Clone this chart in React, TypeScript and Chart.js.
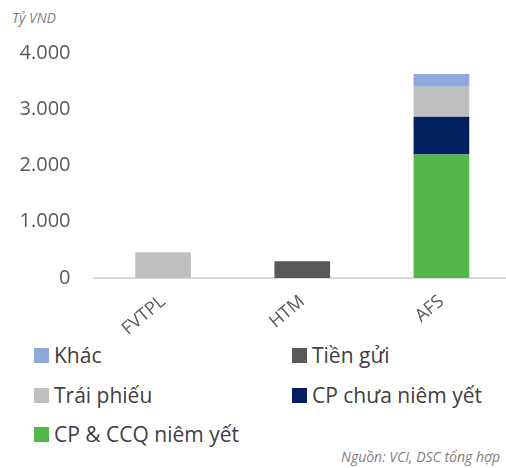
import React, { useEffect, useRef } from "react";
import { Chart, registerables } from "chart.js";

Chart.register(...registerables);

const categories = ["FVTPL", "HTM", "AFS"];
const cpCcqNiemYet = [0, 0, 2195];
const cpChuaNiemYet = [0, 0, 672];
const traiPhieu = [460, 0, 531];
const tienGui = [0, 300, 0];
const khac = [0, 0, 230];
const yTicks = [0, 1000, 2000, 3000, 4000];

const FONT = "'Open Sans', 'Noto Sans', sans-serif";

const legendItems = [
  { label: "Khác", color: "#8eaadb", x: 34, y: 341 },
  { label: "Tiền gửi", color: "#595959", x: 292, y: 341 },
  { label: "Trái phiếu", color: "#bfbfbf", x: 34, y: 381 },
  { label: "CP chưa niêm yết", color: "#002060", x: 292, y: 381 },
  { label: "CP & CCQ niêm yết", color: "#53b74a", x: 34, y: 420 },
];

export default function App() {
  const ref = useRef<HTMLCanvasElement>(null);
  useEffect(() => {
    if (!ref.current) return;
    const chart = new Chart(ref.current, {
      type: "bar",
      data: {
        labels: categories,
        datasets: [
          { label: "CP & CCQ niêm yết", data: cpCcqNiemYet, backgroundColor: "#53b74a" },
          { label: "CP chưa niêm yết", data: cpChuaNiemYet, backgroundColor: "#002060" },
          { label: "Trái phiếu", data: traiPhieu, backgroundColor: "#bfbfbf" },
          { label: "Tiền gửi", data: tienGui, backgroundColor: "#595959" },
          { label: "Khác", data: khac, backgroundColor: "#8eaadb" },
        ],
      },
      options: {
        animation: false,
        responsive: false,
        maintainAspectRatio: false,
        layout: { padding: { top: 53, left: 0, right: 0, bottom: 0 } },
        plugins: { legend: { display: false }, tooltip: { enabled: false } },
        datasets: { bar: { categoryPercentage: 1, barPercentage: 0.4 } },
        scales: {
          x: {
            stacked: true,
            grid: { display: false, drawTicks: false },
            border: { display: true, color: "#d9d9d9", width: 2 },
            ticks: {
              color: "#595959",
              font: { family: FONT, size: 18 },
              minRotation: 40,
              maxRotation: 40,
              padding: 13,
            },
            afterFit: (s: any) => {
              s.height = 62;
            },
          },
          y: {
            stacked: true,
            min: 0,
            max: 4000,
            grid: { display: false, drawTicks: false },
            border: { display: false },
            afterBuildTicks: (s: any) => {
              s.ticks = yTicks.map((v) => ({ value: v }));
            },
            ticks: {
              color: "#595959",
              font: { family: FONT, size: 20 },
              padding: 23,
              callback: (v: any) => Number(v).toLocaleString("de-DE"),
            },
            afterFit: (s: any) => {
              s.width = 93.5;
            },
          },
        },
      },
    });
    return () => chart.destroy();
  }, []);

  return (
    <div
      style={{
        position: "fixed",
        left: 0,
        top: 0,
        width: 506,
        height: 468,
        overflow: "hidden",
        background: "#fff",
        fontFamily: FONT,
      }}
    >
      <div
        style={{
          position: "absolute",
          left: 12,
          top: 8,
          fontSize: 14,
          fontStyle: "italic",
          color: "#7f7f7f",
        }}
      >
        Tỷ VND
      </div>
      <canvas
        ref={ref}
        width={511}
        height={340}
        style={{ position: "absolute", left: 0, top: 0, width: 511, height: 340 }}
      />
      {legendItems.map((it) => (
        <div
          key={it.label}
          style={{
            position: "absolute",
            left: it.x,
            top: it.y,
            display: "flex",
            alignItems: "center",
            fontSize: 21,
            color: "#404040",
            whiteSpace: "nowrap",
            lineHeight: "28px",
          }}
        >
          <span
            style={{
              display: "inline-block",
              width: 15,
              height: 15,
              background: it.color,
              marginRight: 5,
            }}
          />
          {it.label}
        </div>
      ))}
      <div
        style={{
          position: "absolute",
          right: 6,
          top: 447,
          fontSize: 14,
          fontStyle: "italic",
          color: "#7f7f7f",
          whiteSpace: "nowrap",
        }}
      >
        Nguồn: VCI, DSC tổng hợp
      </div>
    </div>
  );
}
